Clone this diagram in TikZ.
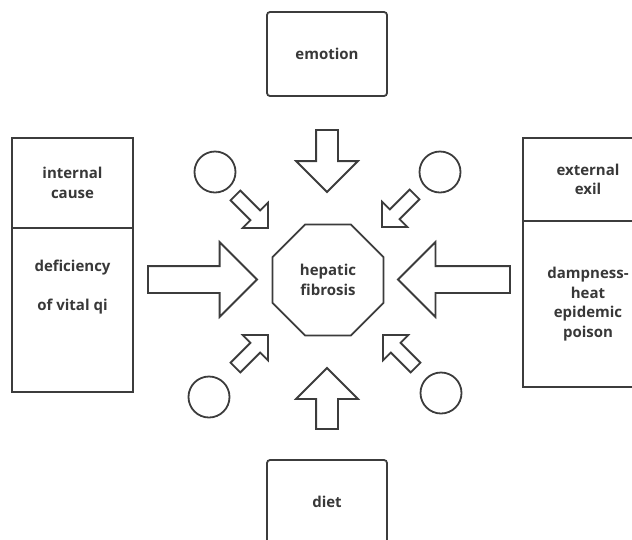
\documentclass[tikz,border=0pt]{standalone}
\usepackage{fontspec}
\setmainfont{Open Sans}
\usepackage{xcolor}
\usetikzlibrary{positioning,shapes.geometric,shapes.arrows}
\definecolor{lineGray}{HTML}{3C3C3C}
\definecolor{textGray}{HTML}{383838}

\begin{document}
\begin{tikzpicture}[
    x=1pt,y=-1pt,line width=1.8pt,
    every node/.style={font=\bfseries\fontsize{15}{19.5}\selectfont,text=textGray},
    box/.style={draw=lineGray,align=center,outer sep=0pt,inner sep=0pt},
    topic/.style={box,rounded corners=3pt,minimum width=120pt,minimum height=84pt},
    hub/.style={draw=lineGray,regular polygon,regular polygon sides=8,
      minimum size=120pt,inner sep=0pt,align=center},
    ring/.style={draw=lineGray,circle,minimum size=41pt,inner sep=0pt},
    block/.style={draw=lineGray,single arrow,inner xsep=0pt,outer sep=0pt,minimum width=0pt,anchor=tip},
    tall/.style={block,inner ysep=10pt,single arrow head extend=20pt},
    wide/.style={block,inner ysep=12.5pt,single arrow head extend=24pt},
    thin/.style={block,inner ysep=6pt,single arrow head extend=11pt,minimum height=46pt}]
    \useasboundingbox (0,0) rectangle (632,539);
    \clip (0,0) rectangle (632,539);
    \node[hub] (fibrosis) at (328,280) {hepatic\\fibrosis};
    \node[topic] (emotion) at (327,54) {emotion};
    \node[topic] (diet) at (327,502) {diet};
    \node[box,minimum width=121pt,minimum height=90pt] (internal) at (72.5,183) {internal\\cause};
    \node[box,minimum width=121pt,minimum height=164pt,text depth=49pt,below=0pt of internal] (qi) {deficiency\\[19.5pt]of vital qi};
    \node[box,minimum width=130pt,minimum height=83pt] (external) at (588,179.5) {external\\exil};
    \node[box,minimum width=130pt,minimum height=166pt,below=0pt of external] (poison) {dampness-\\heat\\epidemic\\poison};
    \node[tall,minimum height=62pt,rotate=-90] (fromEmotion) at (327,192) {};
    \node[tall,minimum height=61pt,rotate=90] (fromDiet) at (327,368) {};
    \node[wide,minimum height=109pt] (fromInternal) at (257,279.5) {};
    \node[wide,minimum height=112pt,rotate=180] (fromExternal) at (398,279.5) {};
    \node[ring] (ringNW) at (215,172) {};
    \node[ring] (ringNE) at (440,172) {};
    \node[ring] (ringSW) at (209,397) {};
    \node[ring] (ringSE) at (441,393) {};
    \node[thin,rotate=-45] (fromNW) at (268,228) {};
    \node[thin,rotate=-135] (fromNE) at (382,227) {};
    \node[thin,rotate=45] (fromSW) at (268,335) {};
    \node[thin,rotate=135] (fromSE) at (383,335) {};
\end{tikzpicture}
\end{document}
